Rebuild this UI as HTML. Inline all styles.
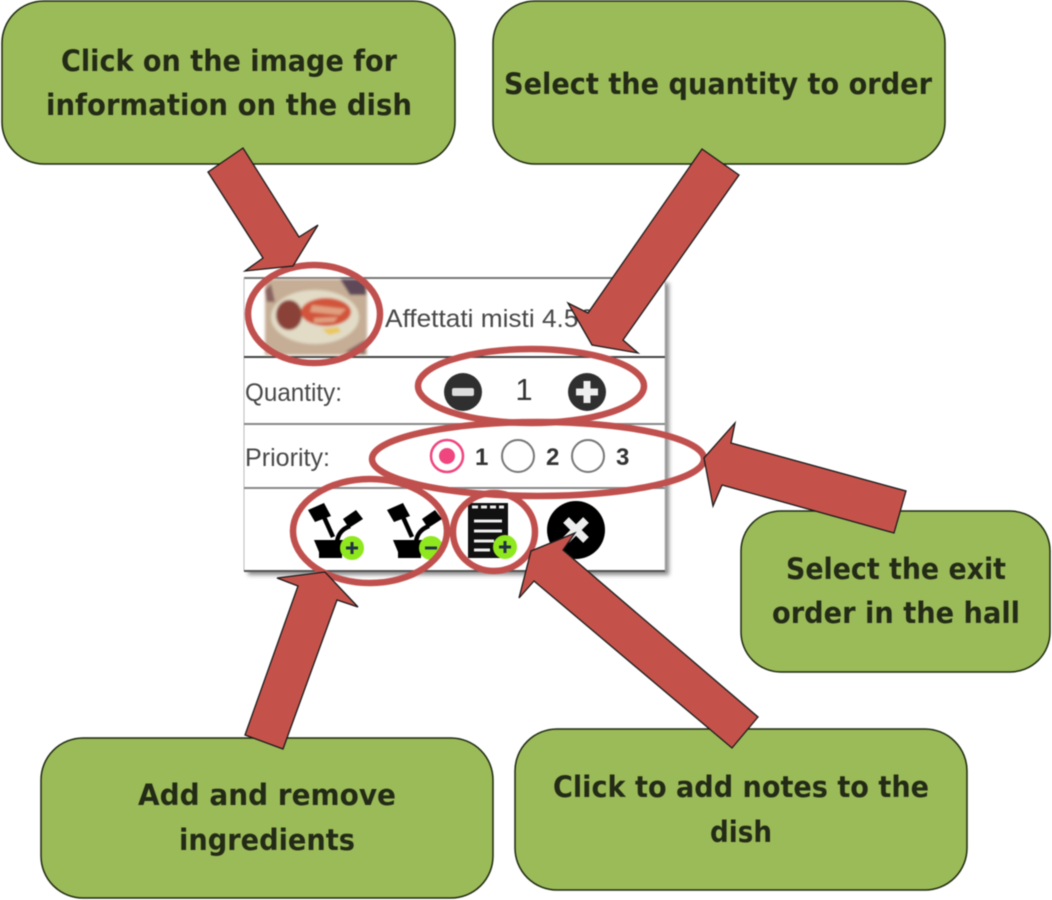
<!DOCTYPE html>
<html><head><meta charset="utf-8"><style>
html,body{margin:0;padding:0;background:#fff}
svg{display:block;filter:blur(0.55px)}
.b{font-family:"DejaVu Sans","Liberation Sans",sans-serif;font-weight:bold;font-size:29px;fill:#232b16;text-anchor:middle}
.s{font-family:"Liberation Sans",sans-serif;font-size:25px;fill:#484848}
.n{font-family:"Liberation Sans",sans-serif;font-weight:bold;font-size:24px;fill:#333}
</style></head><body>
<svg width="1052" height="900" viewBox="0 0 1052 900" xmlns="http://www.w3.org/2000/svg">
<defs><filter id="bl" x="-10%" y="-10%" width="120%" height="120%"><feGaussianBlur stdDeviation="2"/></filter>
<filter id="sm" x="-5%" y="-5%" width="110%" height="110%"><feGaussianBlur stdDeviation="1.2"/></filter></defs>
<g fill="#9bbb59" stroke="#1e2a10" stroke-width="1.5">
<rect x="2" y="1" width="453" height="163" rx="42"/>
<rect x="493" y="1" width="452" height="163" rx="42"/>
<rect x="741" y="511" width="309" height="161" rx="40"/>
<rect x="41" y="738" width="452" height="160" rx="42"/>
<rect x="515" y="729" width="452" height="161" rx="42"/>
</g>
<g>
<text class="b" textLength="336" lengthAdjust="spacingAndGlyphs" x="229" y="71">Click on the image for</text>
<text class="b" textLength="366" lengthAdjust="spacingAndGlyphs" x="229" y="115">information on the dish</text>
<text class="b" textLength="428" lengthAdjust="spacingAndGlyphs" x="718" y="94">Select the quantity to order</text>
<text class="b" textLength="220" lengthAdjust="spacingAndGlyphs" x="896" y="579">Select the exit</text>
<text class="b" textLength="248" lengthAdjust="spacingAndGlyphs" x="896" y="623">order in the hall</text>
<text class="b" textLength="258" lengthAdjust="spacingAndGlyphs" x="267" y="805">Add and remove</text>
<text class="b" textLength="176" lengthAdjust="spacingAndGlyphs" x="267" y="850">ingredients</text>
<text class="b" textLength="376" lengthAdjust="spacingAndGlyphs" x="741" y="797">Click to add notes to the</text>
<text class="b" textLength="62" lengthAdjust="spacingAndGlyphs" x="741" y="842">dish</text>
</g>
<!-- card -->
<rect x="248" y="283" width="421" height="292" fill="#8a8a8a" filter="url(#bl)"/>
<rect x="244" y="278" width="421" height="293" fill="#fff"/>
<path d="M244 278H665" stroke="#777" stroke-width="2"/>
<path d="M244 278V571M665 278V571" stroke="#bbb" stroke-width="1"/>
<path d="M244 357H665" stroke="#444" stroke-width="2"/>
<path d="M244 424H665M244 488H665" stroke="#888" stroke-width="2"/>
<path d="M244 571H665" stroke="#555" stroke-width="2"/>
<!-- photo -->
<g filter="url(#sm)">
<rect x="265" y="279" width="102" height="76" fill="#c6ae96"/>
<path d="M340 279h26v16h-16z" fill="#5f4a58"/>
<path d="M265 290l6-6 4 18h-8zM345 352l20-12v14z" fill="#8a6460"/>
<ellipse cx="315" cy="317" rx="44" ry="27" fill="#e2dbc6"/>
<ellipse cx="289" cy="315" rx="13" ry="15" fill="#8a4238"/>
<ellipse cx="326" cy="312" rx="25" ry="14" fill="#d2543a"/>
<path d="M312 305l34 4-6 6-30-3zM314 318l24-1-4 5-20 1z" fill="#e0a080"/>
<path d="M322 329l16-2 3 5-12 3z" fill="#e8c860"/>
</g>
<text class="s" x="385" y="327" textLength="208" lengthAdjust="spacingAndGlyphs">Affettati misti 4.5€</text>
<text class="s" x="245" y="401" textLength="97" lengthAdjust="spacingAndGlyphs">Quantity:</text>
<text class="s" x="245" y="466" textLength="85" lengthAdjust="spacingAndGlyphs">Priority:</text>
<!-- stepper -->
<circle cx="463" cy="392" r="19" fill="#2f2f2f"/><rect x="452" y="388" width="22" height="8" rx="2" fill="#ddd"/>
<text x="524" y="400" font-family="Liberation Sans,sans-serif" font-size="31" fill="#333" text-anchor="middle">1</text>
<circle cx="587" cy="392" r="19" fill="#2f2f2f"/><path d="M576 392h22M587 381v22" stroke="#eee" stroke-width="7"/>
<!-- radios -->
<circle cx="447" cy="456" r="16" fill="#fff" stroke="#f0457f" stroke-width="2.5"/><circle cx="447" cy="456" r="8" fill="#f0457f"/>
<circle cx="518" cy="456" r="16" fill="#fff" stroke="#777" stroke-width="2"/>
<circle cx="588" cy="456" r="16" fill="#fff" stroke="#777" stroke-width="2"/>
<text class="n" x="475" y="465">1</text><text class="n" x="546" y="465">2</text><text class="n" x="616" y="465">3</text>
<!-- ingredient icons -->
<g id="ic">
<path d="M308 510l16-7 7 13-16 6zM343 519l13-9 7 9-14 9z" fill="#000"/>
<path d="M324 517l9 20M350 526c-8 3-12 8-13 16" stroke="#000" stroke-width="4.5" fill="none"/>
<path d="M314 540h34l-6 12v6h-23v-6z" fill="#000"/>
</g>
<circle cx="352" cy="548" r="12" fill="#8fe81e"/><path d="M346 548h12M352 542v12" stroke="#234" stroke-width="3"/>
<use href="#ic" x="79"/>
<circle cx="431" cy="548" r="12" fill="#8fe81e"/><path d="M425 548h12" stroke="#234" stroke-width="3"/>
<!-- notes -->
<rect x="468" y="503" width="40" height="55" fill="#111"/>
<path d="M474 521h28M474 531h28M474 541h20M474 550h16" stroke="#eee" stroke-width="3"/>
<path d="M472 507h32" stroke="#eee" stroke-width="3" stroke-dasharray="6 3"/>
<circle cx="505" cy="547" r="12" fill="#8fe81e"/><path d="M499 547h12M505 541v12" stroke="#234" stroke-width="3"/>
<!-- close -->
<circle cx="576" cy="530" r="29" fill="#000"/><path d="M566 520l20 20M586 520l-20 20" stroke="#eee" stroke-width="8"/>
<!-- ellipses -->
<g fill="none" stroke="#c0504d" stroke-width="6.5">
<ellipse cx="314" cy="314" rx="66" ry="49"/>
<ellipse cx="531" cy="386" rx="113" ry="37"/>
<ellipse cx="538" cy="459" rx="166" ry="37"/>
<ellipse cx="370" cy="531" rx="77" ry="52"/>
<ellipse cx="494" cy="532" rx="41" ry="39"/>
</g>
<!-- arrows -->
<g fill="#c5524a" stroke="#1a1a1a" stroke-width="1.3">
<polygon points="208,172 243,148 299,237 318,225 293,266 245,271 263,258"/>
<polygon points="702,149 739,175 623,340 638,353 592,345 568,303 588,313"/>
<polygon points="906,491 894,533 722,485 713,506 704,458 735,423 731,443"/>
<polygon points="245,735 283,749 337,600 358,607 325,572 277,578 298,586"/>
<polygon points="758,717 732,748 534,581 519,598 531,551 575,533 563,550"/>
</g>
</svg>
</body></html>
